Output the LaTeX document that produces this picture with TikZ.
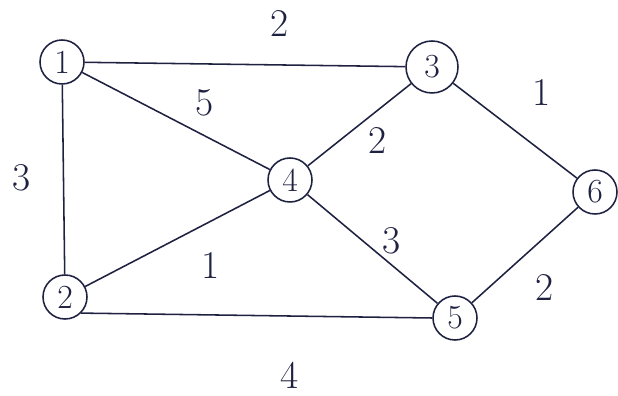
\documentclass[tikz,border=0pt]{standalone}
\usepackage{tikz}

\definecolor{ink}{RGB}{30,34,64}

\tikzset{
  vertex/.style={circle, draw=ink, line width=1.1pt, minimum size=1.1cm, inner sep=0pt, font=\fontsize{24}{26}\selectfont, text=ink},
  edge/.style={ink, line width=1.1pt},
  weight/.style={font=\fontsize{28}{30}\selectfont, text=ink, inner sep=1pt}
}

\begin{document}
\begin{tikzpicture}

  \useasboundingbox (0,0) rectangle (15.45,9.875);

  % The vertices
  \node[vertex] (v1) at (1.55, 8.325) {1};
  \node[vertex] (v2) at (1.625, 2.45) {2};
  \node[vertex, minimum width=1.3cm] (v3) at (10.8, 8.2) {3};
  \node[vertex] (v4) at (7.25, 5.375) {4};
  \node[vertex] (v5) at (11.375, 1.925) {5};
  \node[vertex] (v6) at (14.875, 5.075) {6};

  % The edges
  \draw[edge] (v1) -- (v3);
  \draw[edge] (v1) -- (v4);
  \draw[edge] (v1) -- (v2);
  \draw[edge] (v3) -- (v4);
  \draw[edge] (v3) -- (v6);
  \draw[edge] (v4) -- (v2);
  \draw[edge] (v4) -- (v5);
  \draw[edge] (v2.south east) -- (v5.west);
  \draw[edge] (v5) -- (v6);

  % The weights
  \node[weight] (w13) at (7.0, 9.3) {2};
  \node[weight] (w14) at (5.125, 7.3) {5};
  \node[weight] (w12) at (0.55, 5.425) {3};
  \node[weight] (w34) at (9.45, 6.375) {2};
  \node[weight] (w36) at (13.55, 7.575) {1};
  \node[weight] (w24) at (5.275, 3.25) {1};
  \node[weight] (w45) at (9.8, 3.85) {3};
  \node[weight] (w25) at (7.25, 0.5) {4};
  \node[weight] (w56) at (13.625, 2.7) {2};

\end{tikzpicture}
\end{document}
